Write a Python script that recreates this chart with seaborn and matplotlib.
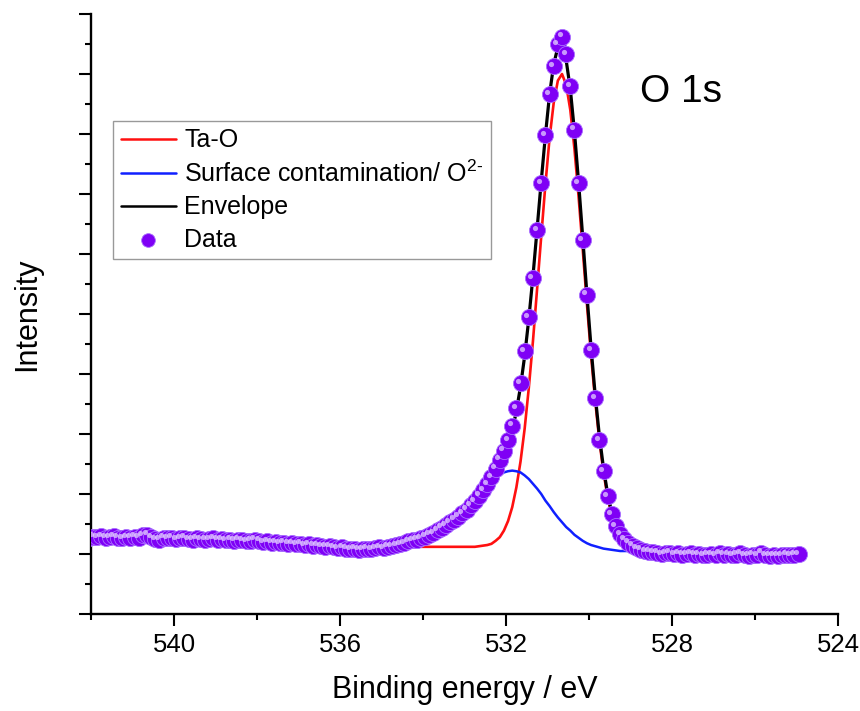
import numpy as np
import pandas as pd
import matplotlib
matplotlib.use("Agg")
import matplotlib.pyplot as plt
import seaborn as sns
from matplotlib import transforms
from matplotlib.ticker import MultipleLocator, NullFormatter

# measured O 1s spectrum, 0.1 eV steps from 542.05 down to 524.95 eV
intensity = [
    1.27, 1.29, 1.28, 1.30, 1.27, 1.28, 1.30, 1.27, 1.26, 1.28,
    1.27, 1.29, 1.27, 1.31, 1.32, 1.28, 1.25, 1.24, 1.27, 1.26,
    1.27, 1.25, 1.26, 1.27, 1.25, 1.24, 1.26, 1.25, 1.24, 1.25,
    1.26, 1.24, 1.25, 1.23, 1.24, 1.22, 1.24, 1.23, 1.21, 1.22,
    1.24, 1.22, 1.20, 1.21, 1.19, 1.20, 1.18, 1.19, 1.17, 1.18,
    1.16, 1.17, 1.15, 1.16, 1.14, 1.15, 1.13, 1.12, 1.13, 1.11,
    1.10, 1.11, 1.09, 1.08, 1.09, 1.07, 1.08, 1.09, 1.08,
    1.10, 1.11, 1.10, 1.12, 1.13, 1.15, 1.16, 1.18, 1.21, 1.23, 1.24,
    1.26, 1.29, 1.32, 1.35, 1.40, 1.44, 1.48, 1.53, 1.57, 1.62,
    1.68, 1.74, 1.81, 1.88, 1.97, 2.06, 2.16, 2.28, 2.42, 2.57,
    2.72, 2.90, 3.14, 3.43, 3.85, 4.38, 4.95, 5.60, 6.40, 7.18,
    7.98, 8.66, 9.13, 9.50, 9.62, 9.33, 8.80, 8.07, 7.18, 6.23,
    5.32, 4.40, 3.60, 2.90, 2.38, 1.96, 1.66, 1.46, 1.33, 1.25,
    1.19, 1.14, 1.10, 1.07, 1.05, 1.04, 1.03,
    1.02, 1.00, 1.01, 1.02, 1.00, 1.01, 0.99, 1.00, 1.01, 0.99,
    1.00, 0.98, 0.99, 1.00, 0.98, 1.01, 0.99, 1.00, 0.98, 0.99,
    1.01, 0.98, 0.97, 0.99, 0.98, 1.02, 0.98, 0.97, 0.98, 0.97,
    0.98, 0.99, 0.98, 0.99, 1.00,
]
energy = np.linspace(542.05, 524.95, len(intensity))

# fitted components, 534.05 down to 528.45 eV
ta_o = [
    1.12, 1.12, 1.12, 1.12, 1.12, 1.12, 1.12, 1.12, 1.12, 1.12, 1.12,
    1.12, 1.12, 1.12, 1.13, 1.14, 1.15, 1.17, 1.22, 1.28, 1.39,
    1.55, 1.78, 2.11, 2.54, 3.09, 3.77, 4.55, 5.42, 6.30, 7.16,
    7.93, 8.52, 8.89, 9.00, 8.82, 8.40, 7.75, 6.95, 6.07, 5.17,
    4.31, 3.55, 2.89, 2.36, 1.94, 1.64, 1.42, 1.27, 1.17, 1.11,
    1.07, 1.05, 1.03, 1.03, 1.02, 1.02,
]
surface = [
    1.25, 1.27, 1.30, 1.33, 1.36, 1.40, 1.44, 1.49, 1.54, 1.60, 1.66,
    1.73, 1.81, 1.89, 1.97, 2.05, 2.13, 2.20, 2.27, 2.32, 2.36,
    2.38, 2.39, 2.38, 2.36, 2.31, 2.25, 2.17, 2.09, 2.00, 1.89,
    1.80, 1.70, 1.61, 1.53, 1.45, 1.39, 1.32, 1.27, 1.22, 1.18,
    1.15, 1.13, 1.11, 1.09, 1.08, 1.07, 1.06, 1.05, 1.05, 1.05,
    1.04, 1.04, 1.04, 1.03, 1.03, 1.03,
]
envelope = [
    1.25, 1.27, 1.30, 1.33, 1.36, 1.40, 1.44, 1.49, 1.54, 1.60, 1.66,
    1.73, 1.81, 1.89, 1.98, 2.07, 2.16, 2.25, 2.37, 2.48, 2.63,
    2.81, 3.05, 3.38, 3.79, 4.30, 4.92, 5.63, 6.42, 7.22, 7.98,
    8.66, 9.16, 9.45, 9.48, 9.23, 8.75, 8.04, 7.19, 6.27, 5.33,
    4.44, 3.65, 2.97, 2.43, 2.00, 1.68, 1.46, 1.30, 1.20, 1.13,
    1.09, 1.06, 1.05, 1.04, 1.03, 1.03,
]
fit_energy = np.linspace(534.05, 528.45, len(ta_o))

labels = ["Ta-O", "Surface contamination/ O$^{2\u2010}$", "Envelope", "Data"]

sns.set_style("ticks")
plt.rcParams["font.family"] = ["Liberation Sans", "DejaVu Sans"]
plt.rcParams["mathtext.default"] = "regular"
plt.rcParams["text.color"] = "black"
plt.rcParams["axes.labelcolor"] = "black"
plt.rcParams["xtick.color"] = "black"
plt.rcParams["ytick.color"] = "black"

fig = plt.figure(figsize=(8.6, 7.11), dpi=100)
ax = fig.add_axes([0.1058, 0.1364, 0.8686, 0.8439])

sns.lineplot(x=fit_energy, y=ta_o, color="#FF1010", lw=1.9, ax=ax, label=labels[0])
sns.lineplot(x=fit_energy, y=surface, color="#1020FF", lw=1.8, ax=ax, label=labels[1])
sns.lineplot(x=fit_energy, y=envelope, color="black", lw=2.3, ax=ax, label=labels[2])
sns.scatterplot(x=energy, y=intensity, s=135, color="#7F00F5", edgecolor="#A970FF",
                linewidth=0.6, ax=ax, label=labels[3], zorder=3)
# small highlight on each sphere
hl = transforms.offset_copy(ax.transData, fig=fig, x=-2.5, y=2.5, units="dots")
ax.scatter(energy, intensity, s=14, color="#E2CCFF", alpha=0.75, linewidth=0,
           transform=hl, zorder=4, label="_nolegend_")

ax.set_xlim(542, 524)
ax.set_ylim(0, 10)
ax.xaxis.set_major_locator(MultipleLocator(4))
ax.xaxis.set_minor_locator(MultipleLocator(2))
ax.yaxis.set_major_locator(MultipleLocator(1))
ax.yaxis.set_minor_locator(MultipleLocator(0.5))
ax.yaxis.set_major_formatter(NullFormatter())

sns.despine(ax=ax)
for s in ["left", "bottom"]:
    ax.spines[s].set_linewidth(1.7)
    ax.spines[s].set_color("black")
ax.tick_params(which="major", direction="out", length=8.5, width=1.5, color="black",
               labelsize=18.5, labelcolor="black", pad=5)
ax.tick_params(which="minor", direction="out", length=4.5, width=1.5, color="black")

ax.set_xlabel("Binding energy / eV", fontsize=22, labelpad=13)
ax.set_ylabel("Intensity", fontsize=22, labelpad=22)

ax.text(0.735, 0.87, "O 1s", transform=ax.transAxes, fontsize=28, va="center", ha="left")

handles, labs = ax.get_legend_handles_labels()
leg = ax.legend(handles, labs, loc="upper left", bbox_to_anchor=(0.0295, 0.8217),
                borderaxespad=0, fontsize=18, frameon=True, fancybox=False,
                edgecolor="#999999", framealpha=1, handlelength=2.2,
                handletextpad=0.35, labelspacing=0.33, borderpad=0.3,
                markerscale=0.85)
leg.get_frame().set_linewidth(1.0)
for line in leg.get_lines():
    line.set_linewidth(1.8)

fig.savefig("out.png", dpi=100)
